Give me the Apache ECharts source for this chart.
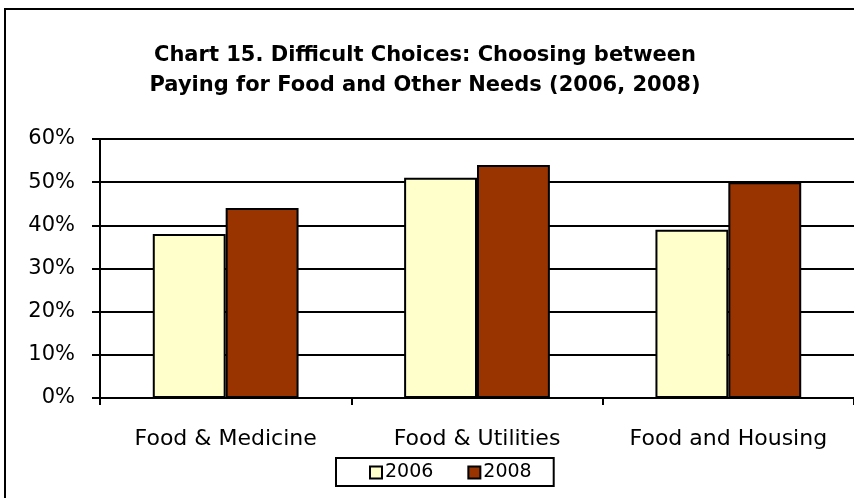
<!DOCTYPE html>
<html>
<head>
<meta charset="utf-8">
<script src="https://cdn.jsdelivr.net/npm/echarts@6/dist/echarts.min.js"></script>
<style>
  html, body { margin: 0; padding: 0; background: #fff; }
  #chart { width: 854px; height: 498px; }
</style>
</head>
<body>
<div id="chart"></div>
<script>
  // data
  const categories = ['Food & Medicine', 'Food & Utilities', 'Food and Housing']
  const values2006 = [38, 51, 39]
  const values2008 = [44, 54, 50]
  const yTicks = [0, 10, 20, 30, 40, 50, 60]

  const chart = echarts.init(document.getElementById('chart'))
  const font = '"DejaVu Sans", sans-serif'

  let option = {
    animation: false,
    backgroundColor: '#fff',
    title: {
      text: 'Chart 15. Difficult Choices: Choosing between\nPaying for Food and Other Needs (2006, 2008)',
      left: 420,
      textAlign: 'center',
      top: 36,
      textStyle: {fontFamily: font, fontSize: 21, fontWeight: 'bold', color: '#000', lineHeight: 30}
    },
    graphic: [
      {type: 'rect', shape: {x: 5, y: 9, width: 900, height: 600},
        style: {fill: 'none', stroke: '#000', lineWidth: 2}, silent: true}
    ],
    legend: {
      data: ['2006', '2008'],
      left: 336,
      top: 458,
      padding: [5, 22, 4, 33],
      itemGap: 34,
      itemWidth: 12,
      itemHeight: 12,
      icon: 'rect',
      borderColor: '#000',
      borderWidth: 2,
      textStyle: {fontFamily: font, fontSize: 19, color: '#000', padding: [0, 0, 0, -2]}
    },
    grid: {left: 100, right: 0, top: 139, bottom: 100},
    xAxis: {
      type: 'category',
      data: categories,
      axisLine: {lineStyle: {color: '#000', width: 2}},
      axisTick: {show: true, interval: 0, length: 7, lineStyle: {color: '#000', width: 2}},
      axisLabel: {interval: 0, fontFamily: font, fontSize: 22, color: '#000', margin: 30}
    },
    yAxis: {
      type: 'value',
      min: yTicks[0],
      max: yTicks[yTicks.length - 1],
      interval: 10,
      axisLine: {show: true, lineStyle: {color: '#000', width: 2}},
      axisTick: {show: true, inside: false, length: 8, lineStyle: {color: '#000', width: 2}},
      splitLine: {lineStyle: {color: '#000', width: 2}},
      axisLabel: {fontFamily: font, fontSize: 21, color: '#000', margin: 25, formatter: '{value}%'}
    },
    series: [
      {
        name: '2006',
        type: 'bar',
        data: values2006,
        barGap: '0%',
        barCategoryGap: '42%',
        itemStyle: {color: '#FFFFCC', borderColor: '#000', borderWidth: 2}
      },
      {
        name: '2008',
        type: 'bar',
        data: values2008,
        itemStyle: {color: '#993300', borderColor: '#000', borderWidth: 2}
      }
    ]
  }
  chart.setOption(option)
</script>
</body>
</html>
